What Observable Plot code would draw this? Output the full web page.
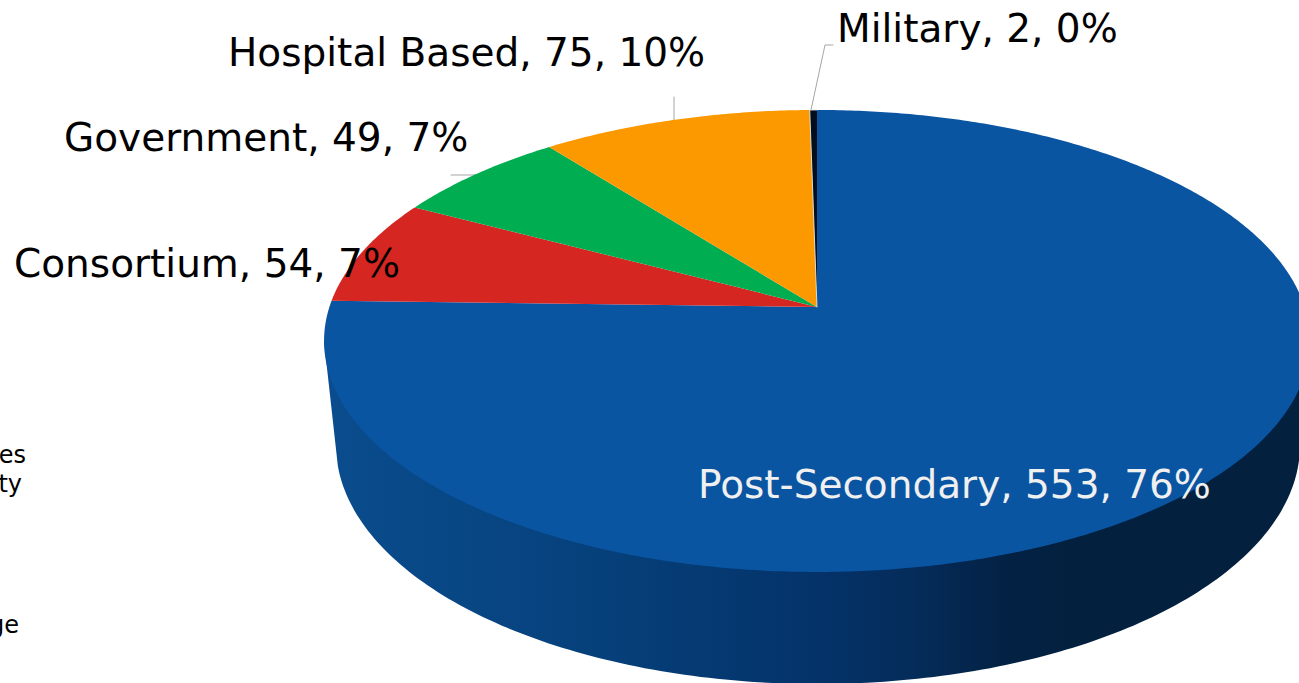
<!DOCTYPE html>
<html>
<head>
<meta charset="utf-8">
<style>html,body{margin:0;padding:0;background:#fff;overflow:hidden}svg{display:block}</style>
<script src="https://cdn.jsdelivr.net/npm/d3@7"></script>
<script src="https://cdn.jsdelivr.net/npm/@observablehq/plot@0.6"></script>
</head>
<body>
<div id="chart"></div>
<script>
// Data
const categories = ["Post-Secondary", "Consortium", "Government", "Hospital Based", "Military"];
const counts = [553, 54, 49, 75, 2];
const percents = [76, 7, 7, 10, 0];
const clippedLegendText = ["es", "ty", "ge"];

// Styles and layout (separate from data)
const sliceColors = ["#0a55a2", "#d62622", "#00ad50", "#fc9900", "#020e1e"];
const labelLayout = [
  {x: 698, y: 498, fill: "#f0f0f0"},
  {x: 14, y: 277, fill: "#000"},
  {x: 64, y: 151, fill: "#000"},
  {x: 228, y: 66, fill: "#000"},
  {x: 837, y: 42, fill: "#000"}
];
const legendLayout = [{x: 26, y: 463}, {x: 22, y: 492}, {x: 19, y: 633}];
const leaderPaths = [
  [[811, 110], [825, 45], [833, 45]],
  [[674, 120], [674, 97]],
  [[478, 175], [451, 175]]
];

// Perspective disc: the top face maps a unit circle so the apex falls off-centre
const apex = {x: 817, y: 307};
const persp = {A: 487.6, B: 226, k: 0.147};
function topPoint(angle) {
  const u = Math.sin(angle), v = Math.cos(angle), d = 1 + persp.k * v;
  return [apex.x + persp.A * u / d, apex.y - persp.B * v / d];
}
const total = d3.sum(counts);
let running = 0;
const slicePoints = [];
categories.forEach((category, i) => {
  const a0 = running / total * 2 * Math.PI;
  running += counts[i];
  const a1 = running / total * 2 * Math.PI;
  slicePoints.push({category, x: apex.x, y: apex.y});
  const n = Math.max(2, Math.ceil((a1 - a0) / 0.01));
  for (let j = 0; j <= n; j++) {
    const [x, y] = topPoint(a0 + (a1 - a0) * j / n);
    slicePoints.push({category, x, y});
  }
});

// Side wall: lower half of the base ellipse, joined to the widest points of the top face
const base = {cx: 817, cy: 445, rxLeft: 481, rxRight: 483, ry: 239};
const topRim = {cy: 341, rx: 493};
const sidePoints = [{x: apex.x - topRim.rx, y: topRim.cy}];
for (let j = 0; j <= 180; j++) {
  const t = Math.PI * (1 - j / 180);
  if (t > Math.PI - 0.075) continue;
  const c = Math.cos(t);
  sidePoints.push({x: base.cx + (c < 0 ? base.rxLeft : base.rxRight) * c, y: base.cy + base.ry * Math.sin(t)});
}
sidePoints.push({x: apex.x + topRim.rx, y: topRim.cy});

const gradientStops = [
  [0, "#0a4c8d"], [0.22, "#07437f"], [0.38, "#053a72"], [0.5, "#04336a"],
  [0.6, "#052c5a"], [0.7, "#032143"], [0.78, "#03203e"], [1, "#03203e"]
];
const sideGradient = () => {
  const defs = d3.create("svg:defs");
  const g = defs.append("linearGradient").attr("id", "sideGrad")
    .attr("gradientUnits", "userSpaceOnUse")
    .attr("x1", 330).attr("x2", 1300).attr("y1", 0).attr("y2", 0);
  gradientStops.forEach(([o, c]) => g.append("stop").attr("offset", o).attr("stop-color", c));
  return defs.node();
};

const labels = categories.map((c, i) => ({
  text: `${c}, ${counts[i]}, ${percents[i]}%`, ...labelLayout[i]
}));
const legendBits = clippedLegendText.map((text, i) => ({text, ...legendLayout[i]}));
const leaders = leaderPaths.flatMap((p, id) => p.map(([x, y]) => ({id, x, y})));
const font = "'DejaVu Sans', Verdana, sans-serif";

const chart = Plot.plot({
  width: 1299, height: 683, margin: 0,
  style: {background: "#fff", fontFamily: font},
  x: {domain: [0.5, 1299.5], axis: null},
  y: {domain: [683.5, 0.5], axis: null},
  color: {domain: categories, range: sliceColors},
  marks: [
    sideGradient,
    Plot.line(leaders, {x: "x", y: "y", z: "id", stroke: "#a6a6a6", strokeWidth: 1}),
    Plot.line(sidePoints, {x: "x", y: "y", fill: "url(#sideGrad)", stroke: "none"}),
    Plot.line(slicePoints, {x: "x", y: "y", z: "category", fill: "category", stroke: "none"}),
    Plot.line(slicePoints.filter(d => d.category === "Military"), {x: "x", y: "y", stroke: "#e4e4e4", strokeWidth: 0.9}),
    Plot.text(legendBits, {x: "x", y: "y", text: "text", textAnchor: "end", lineAnchor: "bottom", fill: "#000", fontSize: 24, fontFamily: font}),
    Plot.text(labels, {x: "x", y: "y", text: "text", textAnchor: "start", lineAnchor: "bottom", fill: "fill", fontSize: 39, fontFamily: font})
  ]
});
document.getElementById("chart").appendChild(chart);
</script>
</body>
</html>
